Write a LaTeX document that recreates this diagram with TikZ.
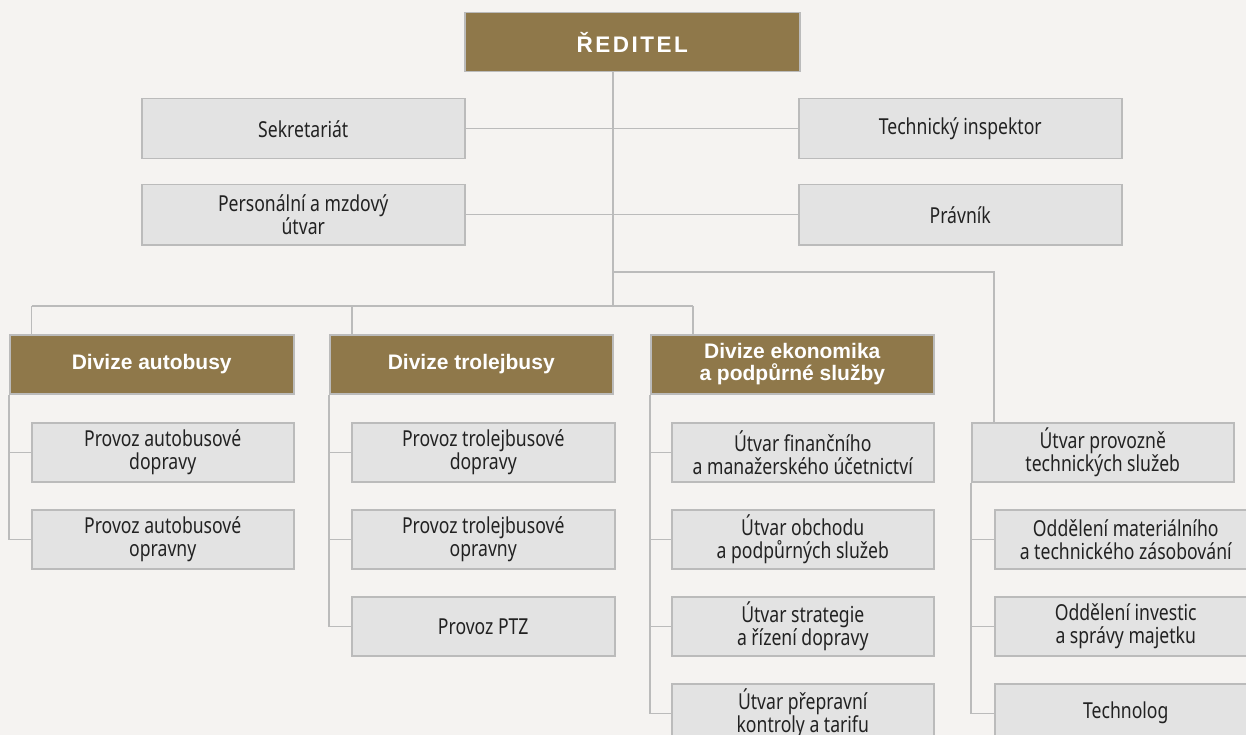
\documentclass[tikz,border=0pt]{standalone}
\usepackage{fontspec}
\setmainfont{Noto Sans}
\newfontfamily\gfont{Noto Sans}[FakeStretch=0.8]
\newfontfamily\hfont{Liberation Sans}
\newfontfamily\dfont{Liberation Sans}[LetterSpace=11]
\definecolor{bgc}{HTML}{F5F3F1}
\definecolor{brn}{HTML}{8F784A}
\definecolor{gfill}{HTML}{E3E3E3}
\definecolor{gline}{HTML}{BBBBBB}
\definecolor{gtext}{HTML}{222222}
\tikzset{
  gbox/.style={draw=gline, line width=1.5pt, fill=gfill, anchor=north west,
    minimum width=262pt, minimum height=59pt, inner sep=0pt, align=center,
    text=gtext, font=\gfont\fontsize{22}{23}\selectfont},
  bbox/.style={draw=gline, line width=1.5pt, fill=brn, anchor=north west,
    minimum width=284pt, minimum height=59pt, inner sep=0pt, align=center,
    text=white, font=\hfont\bfseries\fontsize{21}{22.5}\selectfont},
  conn/.style={draw=gline, line width=1.5pt}
}
\begin{document}
\begin{tikzpicture}[x=1pt,y=-1pt]
\fill[bgc] (0,0) rectangle (1246,735);
\useasboundingbox (0,0) rectangle (1246,735);
% top
\node[bbox, minimum width=335pt, font=\dfont\bfseries\fontsize{22.5}{24}\selectfont] (dir) at (464,12) {ŘEDITEL};
\node[gbox, minimum width=323pt, minimum height=60pt] (sek) at (141,98) {Sekretariát};
\node[gbox, minimum width=323pt, minimum height=60pt] (tech) at (798,98) {Technický inspektor};
\node[gbox, minimum width=323pt, minimum height=60pt] (pers) at (141,184) {Personální a mzdový\\útvar};
\node[gbox, minimum width=323pt, minimum height=60pt] (prav) at (798,184) {Právník};
% divisions
\node[bbox] (divA) at (9,334) {Divize autobusy};
\node[bbox, minimum width=283pt] (divT) at (329,334) {Divize trolejbusy};
\node[bbox, minimum width=283pt] (divE) at (650,334) {Divize ekonomika\\a podpůrné služby};
% A children
\node[gbox] (a1) at (31,422) {Provoz autobusové\\dopravy};
\node[gbox] (a2) at (31,509) {Provoz autobusové\\opravny};
% T children
\node[gbox, minimum width=263pt] (t1) at (351,422) {Provoz trolejbusové\\dopravy};
\node[gbox, minimum width=263pt] (t2) at (351,509) {Provoz trolejbusové\\opravny};
\node[gbox, minimum width=263pt] (t3) at (351,596) {Provoz PTZ};
% E children
\node[gbox] (e1) at (671,422) {Útvar finančního\\a manažerského účetnictví};
\node[gbox] (e2) at (671,509) {Útvar obchodu\\a podpůrných služeb};
\node[gbox] (e3) at (671,596) {Útvar strategie\\a řízení dopravy};
\node[gbox] (e4) at (671,683) {Útvar přepravní\\kontroly a tarifu};
% right column
\node[gbox] (r0) at (971,422) {Útvar provozně\\technických služeb};
\node[gbox] (r1) at (994,509) {Oddělení materiálního\\a technického zásobování};
\node[gbox] (r2) at (994,596) {Oddělení investic\\a správy majetku};
\node[gbox] (r3) at (994,683) {Technolog};
% coordinates
\coordinate (trunk) at (613,306);
\coordinate (rbend) at (613,272);
\coordinate (rdrop) at (994,272);
\coordinate (dA) at (31.5,306);
\coordinate (dT) at (352,306);
\coordinate (dE) at (693,306);
% connectors
\draw[conn] (dir.south -| trunk) -- (trunk);
\draw[conn] (sek.east) -- (tech.west);
\draw[conn] (pers.east) -- (prav.west);
\draw[conn] (rbend) -- (rdrop) -- (r0.north -| rdrop);
\draw[conn] (dA) -- (dE);
\draw[conn] (dA) -- (divA.north -| dA);
\draw[conn] (dT) -- (divT.north -| dT);
\draw[conn] (dE) -- (divE.north -| dE);
\draw[conn] (divA.south west) |- (a2.west);
\draw[conn] (divA.south west |- a1.west) -- (a1.west);
\draw[conn] (divT.south west) |- (t3.west);
\draw[conn] (divT.south west |- t1.west) -- (t1.west);
\draw[conn] (divT.south west |- t2.west) -- (t2.west);
\draw[conn] (divE.south west) |- (e4.west);
\draw[conn] (divE.south west |- e1.west) -- (e1.west);
\draw[conn] (divE.south west |- e2.west) -- (e2.west);
\draw[conn] (divE.south west |- e3.west) -- (e3.west);
\draw[conn] (r0.south west) |- (r3.west);
\draw[conn] (r0.south west |- r1.west) -- (r1.west);
\draw[conn] (r0.south west |- r2.west) -- (r2.west);
\end{tikzpicture}
\end{document}
